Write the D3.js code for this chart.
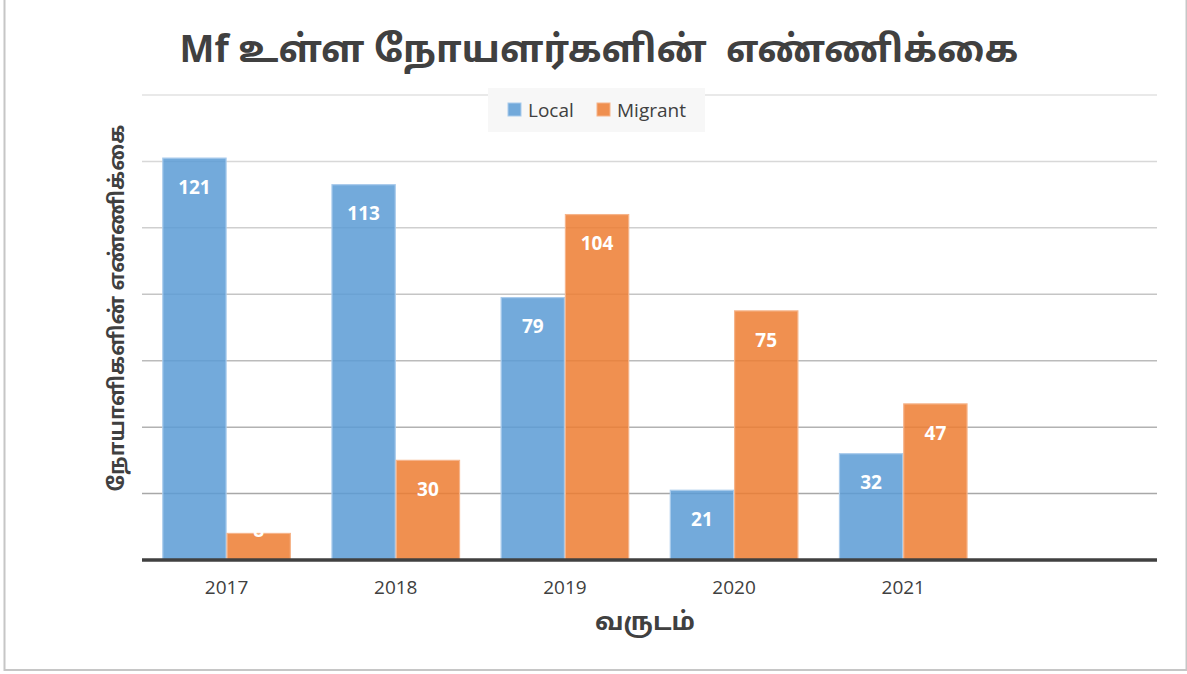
<!DOCTYPE html>
<html>
<head>
<meta charset="utf-8">
<title>Mf chart</title>
<script type="text/javascript" src="https://d3js.org/d3.v7.min.js"></script>
<style>
body { margin: 0; background: #fff; }
</style>
</head>
<body>
<script type="text/javascript">

// data
var years = ["2017", "2018", "2019", "2020", "2021", ""];
var seriesNames = ["Local", "Migrant"];
var localValues = [121, 113, 79, 21, 32];
var migrantValues = [8, 30, 104, 75, 47];
var yTicks = [20, 40, 60, 80, 100, 120, 140];

var titleText = "Mf உள்ள நோயளர்களின்  எண்ணிக்கை";
var yTitle = "நோயாளிகளின் எண்ணிக்கை";
var xTitle = "வருடம்";

var colors = ["#5b9bd5", "#ed7d31"];
var borders = ["#a9cbec", "#f6b48a"];
var tamilFont = "'Noto Sans Tamil', 'Latha', 'Lohit Tamil', 'Noto Sans', sans-serif";
var latinFont = "'Open Sans', 'Noto Sans', sans-serif";

var width = 1187, height = 674;
var plot = {left: 142, right: 1157, top: 95, bottom: 560};

var svg = d3.select("body").append("svg")
	.attr("width", width)
	.attr("height", height);

// cornice del grafico
svg.append("rect")
	.attr("x", 4.5).attr("y", -2)
	.attr("width", 1182).attr("height", 672)
	.attr("fill", "#fff")
	.attr("stroke", "#c6c6c6")
	.attr("stroke-width", 2);

var x0 = d3.scaleBand()
	.domain(years)
	.range([plot.left, plot.right])
	.paddingInner(0.24)
	.paddingOuter(0.12);

var x1 = d3.scaleBand()
	.domain(seriesNames)
	.range([0, x0.bandwidth()]);

var y = d3.scaleLinear()
	.domain([0, 140])
	.range([plot.bottom, plot.top]);

// gridlines, piu scure verso il basso
var gridColor = d3.scaleLinear()
	.domain([140, 20])
	.range(["#e2e2e2", "#a8a8a8"]);

svg.append("g")
	.selectAll("line")
	.data(yTicks)
	.join("line")
	.attr("x1", plot.left)
	.attr("x2", plot.right)
	.attr("y1", function(d){ return y(d); })
	.attr("y2", function(d){ return y(d); })
	.attr("stroke", function(d){ return gridColor(d); })
	.attr("stroke-width", 1.5);

// barre
var rows = localValues.map(function(v, i){
	return {year: years[i], values: [v, migrantValues[i]]};
});

var groups = svg.append("g")
	.selectAll("g")
	.data(rows)
	.join("g")
	.attr("transform", function(d){ return "translate(" + x0(d.year) + ",0)"; });

groups.selectAll("rect")
	.data(function(d){ return d.values.map(function(v, j){ return {s: j, v: v}; }); })
	.join("rect")
	.attr("x", function(d){ return x1(seriesNames[d.s]) + 0.5; })
	.attr("width", x1.bandwidth() - 1)
	.attr("y", function(d){ return y(d.v); })
	.attr("height", function(d){ return y(0) - y(d.v); })
	.attr("fill", function(d){ return colors[d.s]; })
	.attr("fill-opacity", 0.85)
	.attr("stroke", function(d){ return borders[d.s]; })
	.attr("stroke-width", 1.2);

// etichette dei valori
groups.selectAll("text")
	.data(function(d){ return d.values.map(function(v, j){ return {s: j, v: v}; }); })
	.join("text")
	.attr("x", function(d){ return x1(seriesNames[d.s]) + x1.bandwidth() / 2; })
	.attr("y", function(d){ return Math.min(y(d.v) + 29, plot.bottom - 30); })
	.attr("dy", "0.35em")
	.attr("text-anchor", "middle")
	.attr("font-family", latinFont)
	.attr("font-weight", "bold")
	.attr("font-size", "19px")
	.attr("fill", "#fff")
	.text(function(d){ return d.v; });

// asse x
var xAxis = svg.append("g")
	.attr("transform", "translate(0," + plot.bottom + ")")
	.call(d3.axisBottom(x0).tickSize(0).tickPadding(21));
xAxis.select(".domain")
	.attr("stroke", "#404040")
	.attr("stroke-width", 3.5)
	.attr("d", "M" + plot.left + ",0H" + plot.right);
xAxis.selectAll("text")
	.attr("font-family", latinFont)
	.attr("font-size", "19px")
	.attr("fill", "#404040");

// titolo
svg.append("text")
	.attr("x", 599)
	.attr("y", 62)
	.attr("text-anchor", "middle")
	.attr("font-family", tamilFont)
	.attr("font-weight", "bold")
	.attr("font-size", "37px")
	.attr("fill", "#404040")
	.style("white-space", "pre")
	.text(titleText);

// titoli degli assi
svg.append("text")
	.attr("transform", "translate(124,308) rotate(-90)")
	.attr("text-anchor", "middle")
	.attr("font-family", tamilFont)
	.attr("font-weight", "bold")
	.attr("font-size", "21px")
	.attr("fill", "#404040")
	.text(yTitle);

svg.append("text")
	.attr("x", 645)
	.attr("y", 630)
	.attr("text-anchor", "middle")
	.attr("font-family", tamilFont)
	.attr("font-weight", "bold")
	.attr("font-size", "25px")
	.attr("fill", "#404040")
	.text(xTitle);

// legenda
var legend = svg.append("g");
legend.append("rect")
	.attr("x", 488).attr("y", 88)
	.attr("width", 217).attr("height", 44)
	.attr("fill", "#f7f7f7");

var legendX = [508, 597];
var items = legend.selectAll("g")
	.data(seriesNames)
	.join("g")
	.attr("transform", function(d, i){ return "translate(" + legendX[i] + ",103)"; });
items.append("rect")
	.attr("width", 13).attr("height", 13)
	.attr("fill", function(d, i){ return colors[i]; })
	.attr("fill-opacity", 0.85)
	.attr("stroke", function(d, i){ return borders[i]; });
items.append("text")
	.attr("x", 20)
	.attr("y", 7)
	.attr("dy", "0.35em")
	.attr("font-family", latinFont)
	.attr("font-size", "19px")
	.attr("fill", "#404040")
	.text(function(d){ return d; });

</script>
</body>
</html>
